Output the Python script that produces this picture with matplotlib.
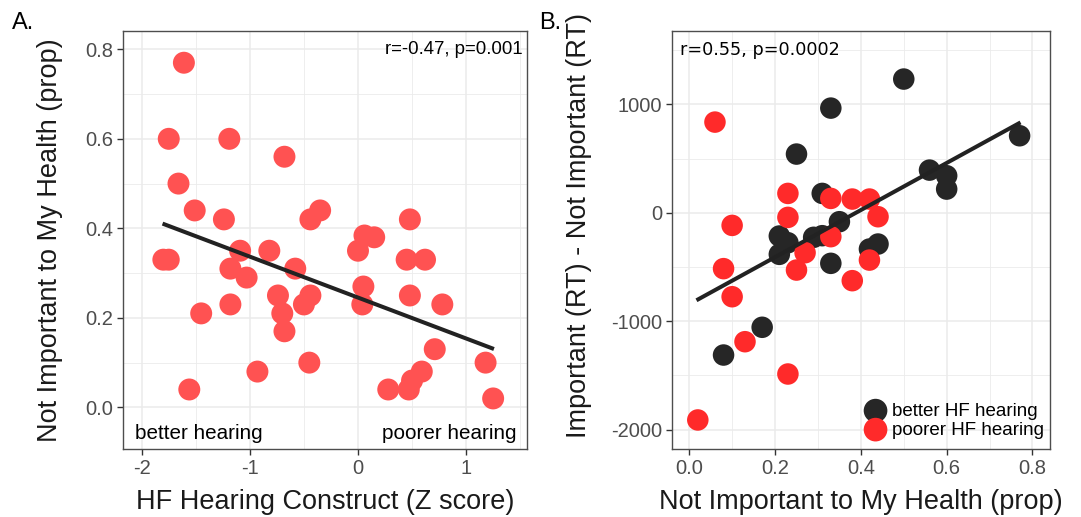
import numpy as np
import matplotlib.pyplot as plt

# Panel A: HF hearing construct vs proportion "not important"
hf_z = [-1.61, -1.75, -1.19, -0.68, -1.66, -1.51, -1.24, -0.44, -0.35, -1.80,
        -1.75, -1.09, -0.82, -1.18, -1.03, -0.58, 0.06, 0.15, 0.00, 0.48,
        0.45, 0.62, -0.74, -0.44, -0.50, 0.05, 0.04, 0.48, 0.78, -1.18,
        -0.70, -1.45, -0.68, 0.71, -0.45, 1.18, -0.93, 0.59, 0.47, 0.50,
        0.28, -1.56, 1.25]
not_imp_a = [0.77, 0.60, 0.60, 0.56, 0.50, 0.44, 0.42, 0.42, 0.44, 0.33,
             0.33, 0.35, 0.35, 0.31, 0.29, 0.31, 0.384, 0.38, 0.35, 0.42,
             0.33, 0.33, 0.25, 0.25, 0.23, 0.27, 0.23, 0.25, 0.23, 0.23,
             0.21, 0.21, 0.17, 0.13, 0.10, 0.10, 0.08, 0.08, 0.04, 0.06,
             0.04, 0.04, 0.02]
fit_a_x = [-1.79, 1.24]
fit_a_y = [0.409, 0.132]

# Panel B: proportion vs RT difference, split by hearing group
better_x = [0.50, 0.33, 0.25, 0.77, 0.56, 0.60, 0.60, 0.31, 0.35, 0.21,
            0.23, 0.21, 0.29, 0.31, 0.33, 0.44, 0.42, 0.17, 0.08]
better_y = [1233, 965, 541, 710, 393, 341, 218, 178, -83, -215,
            -277, -384, -227, -212, -467, -289, -335, -1057, -1313]
poorer_x = [0.06, 0.23, 0.23, 0.10, 0.33, 0.38, 0.42, 0.44, 0.33, 0.27,
            0.25, 0.08, 0.10, 0.42, 0.38, 0.13, 0.23, 0.02]
poorer_y = [836, 178, -43, -117, 132, 126, 126, -37, -221, -369,
            -529, -516, -775, -437, -627, -1190, -1488, -1912]
fit_b_x = [0.021, 0.768]
fit_b_y = [-799, 824]

plt.rcParams["font.family"] = ["Liberation Sans", "DejaVu Sans"]
plt.rcParams["axes.unicode_minus"] = False

fig = plt.figure(figsize=[10.81, 5.17], dpi=100)
axA = fig.add_axes([0.1141, 0.1315, 0.3732, 0.8095])
axB = fig.add_axes([0.6217, 0.1315, 0.3497, 0.8095])


def style(ax):
    ax.set_axisbelow(True)
    ax.grid(which="major", color="#EBEBEB", lw=1.1)
    ax.grid(which="minor", color="#EBEBEB", lw=0.6)
    for s in ax.spines.values():
        s.set_color("#4D4D4D")
        s.set_linewidth(1.0)
    ax.tick_params(which="major", length=4, width=1, color="#333333",
                   labelcolor="#4D4D4D", labelsize=14.5, pad=3)
    ax.tick_params(which="minor", length=0)
    ax.xaxis.label.set_va("center")
    ax.yaxis.label.set_va("center")


# ---- A
axA.scatter(hf_z, not_imp_a, s=250, color="#FF5252", edgecolors="none", zorder=2)
axA.plot(fit_a_x, fit_a_y, color="#222222", lw=2.9, zorder=3)
axA.set_xlim([-2.17, 1.561])
axA.set_ylim([-0.093, 0.842])
axA.set_xticks([-2, -1, 0, 1])
axA.set_xticks([-1.5, -0.5, 0.5, 1.5], minor=True)
axA.set_yticks([0.0, 0.2, 0.4, 0.6, 0.8])
axA.set_yticks([0.1, 0.3, 0.5, 0.7], minor=True)
axA.set_yticklabels(["0.0", "0.2", "0.4", "0.6", "0.8"])
axA.set_xlabel("HF Hearing Construct (Z score)", fontsize=19.5, color="#1A1A1A")
axA.set_ylabel("Not Important to My Health (prop)", fontsize=19.5, color="#1A1A1A")
style(axA)
axA.xaxis.set_label_coords(0.5, -0.127)
axA.yaxis.set_label_coords(-0.182, 0.5)
axA.text(0.99, 0.975, "r=-0.47, p=0.001", transform=axA.transAxes,
         ha="right", va="top", fontsize=13.4)
axA.text(0.03, 0.015, "better hearing", transform=axA.transAxes,
         ha="left", va="bottom", fontsize=14.9)
axA.text(0.975, 0.015, "poorer hearing", transform=axA.transAxes,
         ha="right", va="bottom", fontsize=14.9)

# ---- B
axB.scatter(better_x, better_y, s=240, color="#262626", edgecolors="none",
            zorder=2, label="better HF hearing")
axB.scatter(poorer_x, poorer_y, s=240, color="#FF2A2A", edgecolors="none",
            zorder=2, label="poorer HF hearing")
axB.plot(fit_b_x, fit_b_y, color="#222222", lw=2.9, zorder=3)
axB.set_xlim([-0.04, 0.841])
axB.set_ylim([-2180, 1681])
axB.set_xticks([0.0, 0.2, 0.4, 0.6, 0.8])
axB.set_xticklabels(["0.0", "0.2", "0.4", "0.6", "0.8"])
axB.set_xticks([0.1, 0.3, 0.5, 0.7], minor=True)
axB.set_yticks([-2000, -1000, 0, 1000])
axB.set_yticks([-1500, -500, 500, 1500], minor=True)
axB.set_xlabel("Not Important to My Health (prop)", fontsize=19.5, color="#1A1A1A")
axB.set_ylabel("Important (RT) - Not Important (RT)", fontsize=19.5, color="#1A1A1A")
style(axB)
axB.xaxis.set_label_coords(0.5, -0.127)
axB.yaxis.set_label_coords(-0.246, 0.535)
axB.text(0.02, 0.975, "r=0.55, p=0.0002", transform=axB.transAxes,
         ha="left", va="top", fontsize=12.7, family="DejaVu Sans")
axB.legend(loc="lower right", frameon=False, fontsize=13.5, handletextpad=-0.1,
           labelspacing=0.1, borderaxespad=0.0, borderpad=0.0, markerscale=1.1,
           bbox_to_anchor=(0.985, 0.025))

fig.text(0.011, 0.977, "A.", fontsize=17, va="top")
fig.text(0.499, 0.977, "B.", fontsize=17, va="top")

plt.savefig("out.png", dpi=100)
plt.close()
